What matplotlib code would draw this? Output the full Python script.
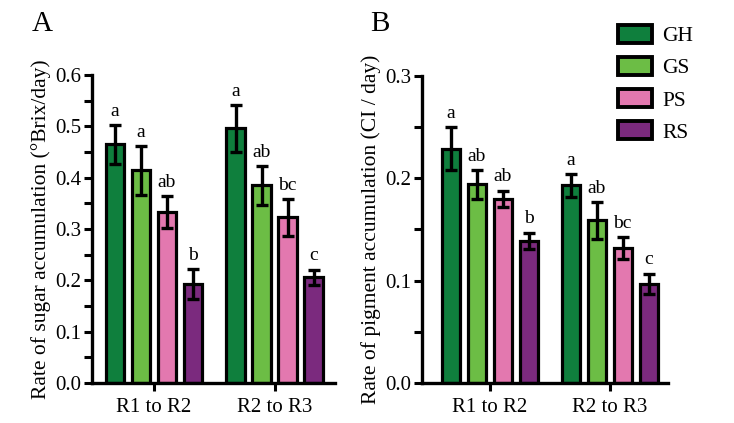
import numpy as np
import matplotlib
matplotlib.use("Agg")
import matplotlib.pyplot as plt
from matplotlib.patches import Patch

plt.rcParams['font.family'] = ['Liberation Serif', 'DejaVu Serif']

groups = ["R1 to R2", "R2 to R3"]
series = ["GH", "GS", "PS", "RS"]
colors = ["#0f7f3d", "#6cbd45", "#e378af", "#7b2a7e"]

# sugar accumulation (A)
sugar = [[0.465, 0.496], [0.414, 0.385], [0.333, 0.323], [0.193, 0.206]]
sugar_err = [[0.038, 0.046], [0.047, 0.038], [0.032, 0.036], [0.029, 0.015]]
sugar_sig = [["a", "a"], ["a", "ab"], ["ab", "bc"], ["b", "c"]]

# pigment accumulation (B)
pigment = [[0.229, 0.193], [0.194, 0.159], [0.180, 0.132], [0.139, 0.097]]
pigment_err = [[0.021, 0.011], [0.014, 0.018], [0.008, 0.011], [0.008, 0.010]]
pigment_sig = [["a", "a"], ["ab", "ab"], ["ab", "bc"], ["b", "c"]]

fig = plt.figure(figsize=(7.34, 4.23), dpi=100)
W, H = 734, 423


def panel(rect, vals, errs, sigs, ymax, ylabel, xlim, letter_gap):
    left, right, top, bottom = rect
    ax = fig.add_axes([left / W, (H - bottom) / H, (right - left) / W, (bottom - top) / H])
    x = np.arange(len(groups))
    pitch, width = 0.215, 0.15
    for i, name in enumerate(series):
        xs = x + (i - 1.5) * pitch
        ax.bar(xs, vals[i], width, color=colors[i], edgecolor="black", linewidth=2.3, zorder=2)
        ax.errorbar(xs, vals[i], yerr=errs[i], fmt="none", ecolor="black",
                    elinewidth=2.4, capsize=4.5, capthick=2.4, zorder=3)
        for xx, v, e, s in zip(xs, vals[i], errs[i], sigs[i]):
            ax.text(xx, v + e + letter_gap, s, ha="center", va="bottom", fontsize=14)
    ax.set_xlim(*xlim)
    ax.set_ylim(0, ymax)
    ax.set_xticks(x)
    ax.set_xticklabels(groups, fontsize=15)
    major = np.arange(0, ymax + 1e-9, 0.1)
    ax.set_yticks(major)
    ax.set_yticklabels([f"{t:.1f}" for t in major], fontsize=15)
    ax.set_yticks(np.arange(0.05, ymax, 0.1), minor=True)
    ax.tick_params(axis="y", width=2.2, length=6, direction="out", pad=2)
    ax.tick_params(axis="x", width=2.2, length=6, direction="out", pad=5)
    ax.tick_params(axis="y", which="minor", width=2.2, length=6)
    for sp in ["top", "right"]:
        ax.spines[sp].set_visible(False)
    for sp in ["left", "bottom"]:
        ax.spines[sp].set_linewidth(2.4)
    ax.set_ylabel(ylabel, fontsize=15.5, labelpad=3)
    return ax


axA = panel((92, 335, 75, 383), sugar, sugar_err, sugar_sig, 0.6,
            "Rate of sugar accumulation (\u00b0Brix/day)", (-0.51, 1.5), 0.01)
axB = panel((422, 668, 76, 383), pigment, pigment_err, pigment_sig, 0.3,
            "Rate of pigment accumulation (CI / day)", (-0.565, 1.485), 0.005)

fig.text(32 / W, 1 - 24 / H, "A", fontsize=21, ha="left", va="center")
fig.text(370 / W, 1 - 24 / H, "B", fontsize=21, ha="left", va="center")

handles = [Patch(facecolor=c, edgecolor="black", linewidth=2.8, label=s)
           for c, s in zip(colors, series)]
fig.legend(handles=handles, loc="upper left", bbox_to_anchor=(618 / W, 1 - 25 / H),
           frameon=False, fontsize=15.5, handlelength=1.6, handleheight=0.9,
           labelspacing=0.5, handletextpad=0.45, borderpad=0, borderaxespad=0)

fig.savefig("out.png", dpi=100)
